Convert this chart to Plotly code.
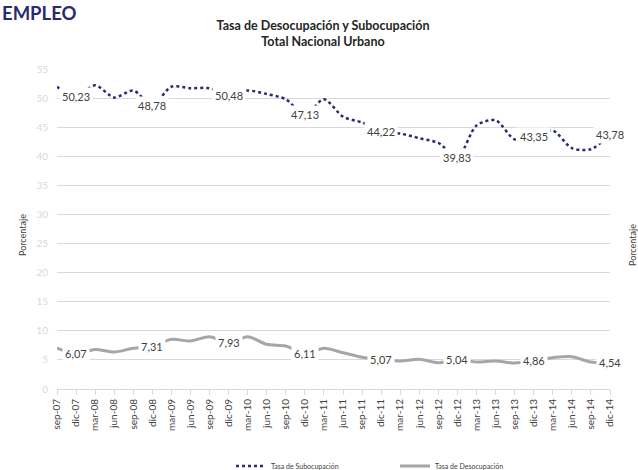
import plotly.graph_objects as go

categories = ["sep-07", "dic-07", "mar-08", "jun-08", "sep-08", "dic-08", "mar-09", "jun-09",
              "sep-09", "dic-09", "mar-10", "jun-10", "sep-10", "dic-10", "mar-11", "jun-11",
              "sep-11", "dic-11", "mar-12", "jun-12", "sep-12", "dic-12", "mar-13", "jun-13",
              "sep-13", "dic-13", "mar-14", "jun-14", "sep-14", "dic-14"]

subocupacion = [51.96, 50.23, 52.2, 50.1, 51.3, 48.78, 51.96, 51.7, 51.7, 50.48,
                51.3, 50.7, 49.8, 47.13, 49.8, 46.8, 45.8, 44.22, 43.9, 43.1,
                42.3, 39.83, 45.3, 46.2, 42.9, 43.35, 44.4, 41.4, 41.2, 43.78]

desocupacion = [7.0, 6.07, 6.8, 6.36, 7.0, 7.31, 8.54, 8.25, 9.0, 7.93,
                9.0, 7.68, 7.4, 6.11, 7.0, 6.24, 5.44, 5.07, 4.81, 5.1,
                4.52, 5.04, 4.64, 4.81, 4.47, 4.86, 5.38, 5.55, 4.64, 4.54]

labeled = ["dic-07", "dic-08", "dic-09", "dic-10", "dic-11", "dic-12", "dic-13", "dic-14"]

FONT = "Lato"
TXT = "#404040"
NAVY = "#2b2a6e"
GRAY = "#a6a6a6"

fig = go.Figure()
fig.add_trace(go.Scatter(x=categories, y=subocupacion, mode="lines", name="Tasa de Subocupación",
                         line=dict(color=NAVY, width=2.5, dash="dot", shape="spline", smoothing=0.8)))
fig.add_trace(go.Scatter(x=categories, y=desocupacion, mode="lines", name="Tasa de Desocupación",
                         line=dict(color=GRAY, width=3, shape="spline", smoothing=0.8)))

annotations = []
for series in (subocupacion, desocupacion):
    for c, v in zip(categories, series):
        if c in labeled:
            annotations.append(dict(x=c, y=v, xref="x", yref="y", showarrow=False,
                                    text=f"{v:.2f}".replace(".", ","),
                                    font=dict(family=FONT, size=11, color=TXT),
                                    bgcolor="white", borderpad=2))

L, R, T, B = 57, 28, 69, 81
W, H = 638, 470
pw, ph = W - L - R, H - T - B

def px(xp):
    return (xp - L) / pw

def py(yp):
    return (H - B - yp) / ph

annotations.append(dict(xref="paper", yref="paper", x=px(0), y=py(13), xanchor="left", yanchor="middle",
                        text="<b>EMPLEO</b>", showarrow=False,
                        font=dict(family=FONT, size=18.5, color="#2b2a6e")))
annotations.append(dict(xref="paper", yref="paper", x=px(22), y=py(235), xanchor="center", yanchor="middle",
                        text="Porcentaje", textangle=-90, showarrow=False,
                        font=dict(family=FONT, size=9, color=TXT)))
annotations.append(dict(xref="paper", yref="paper", x=px(632), y=py(245), xanchor="center", yanchor="middle",
                        text="Porcentaje", textangle=-90, showarrow=False,
                        font=dict(family=FONT, size=9, color=TXT)))

fig.update_layout(
    width=W, height=H,
    margin=dict(l=L, r=R, t=T, b=B, autoexpand=False),
    paper_bgcolor="white", plot_bgcolor="white",
    title=dict(text="<b>Tasa de Desocupación y Subocupación<br>Total Nacional Urbano</b>",
               x=px(337), xanchor="center", y=1 - 29.5 / H, yanchor="middle",
               font=dict(family=FONT, size=12.5, color="#262626")),
    annotations=annotations,
    showlegend=True,
    legend=dict(orientation="h", x=px(231), xanchor="left", y=py(466), yanchor="middle",
                font=dict(family=FONT, size=7, color=TXT), itemwidth=30,
                entrywidth=119, entrywidthmode="pixels", bgcolor="rgba(0,0,0,0)"),
    xaxis=dict(type="category", range=[0, len(categories) - 1], showgrid=False,
               showline=True, linecolor="#d9d9d9", linewidth=1,
               ticks="outside", ticklen=5, tickcolor="#d9d9d9",
               tickangle=-90, tickfont=dict(family=FONT, size=10, color=TXT)),
    yaxis=dict(range=[0, 55], dtick=5, showgrid=True, gridcolor="#d9d9d9", gridwidth=1,
               zeroline=False, showline=False, ticks="", ticklabelstandoff=8,
               tickfont=dict(family=FONT, size=10, color="#d9d9d9")),
)

fig.write_html("out.html", config={"displayModeBar": False},
               post_script="document.body.style.margin='0';")
